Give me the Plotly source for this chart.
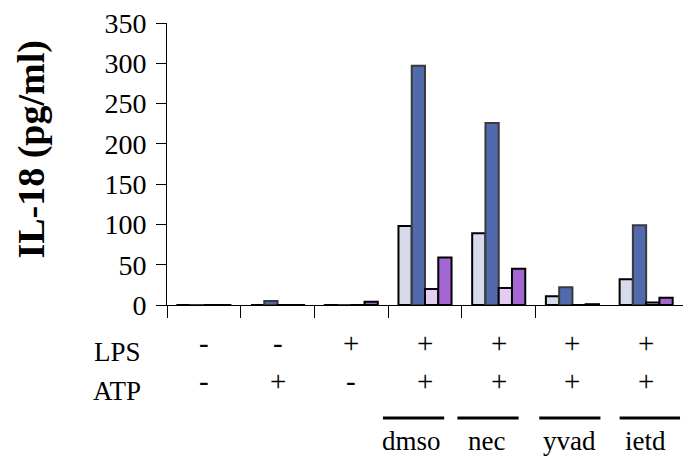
import plotly.graph_objects as go

# ---- data ----
groups = [0, 1, 2, 3, 4, 5, 6]
lps_signs = ["-", "-", "+", "+", "+", "+", "+"]
atp_signs = ["-", "+", "-", "+", "+", "+", "+"]
inhibitors = ["dmso", "nec", "yvad", "ietd"]
inhibitor_groups = [3, 4, 5, 6]
series1 = [-3, 0, -2, 98, 89, 11, 32]
series2 = [-1, 5, 0, 297, 226, 22, 99]
series3 = [0, -1, -3, 20, 21, -2, 3]
series4 = [-3, -1, 4, 59, 45, 1, 9]
y_ticks = [0, 50, 100, 150, 200, 250, 300, 350]
y_title = "IL-18 (pg/ml)"

# ---- styling / layout constants ----
W, H = 690, 459
L, R, T, B = 166.7, 683.3, 22.7, 305.0
FONT = "Liberation Serif, Times New Roman, Times, serif"
colors = ["#D5DBEA", "#506AAD", "#E3CDF0", "#A466D2"]
outlines = ["#000000", "#3a3a3a", "#000000", "#000000"]
# bar underline spans relative to group index (in x units)
line_spans = [(-0.57, 0.26), (-0.56, 0.27), (-0.45, 0.38), (-0.36, 0.46)]
label_dx = [-0.18, -0.17, -0.04, -0.01]


def py(p):
    return (B - p) / (B - T)


def px(p):
    return (p - L) / (R - L)


fig = go.Figure()
for vals, c, oc in zip([series1, series2, series3, series4], colors, outlines):
    fig.add_trace(go.Bar(
        x=groups, y=vals, marker=dict(color=c, line=dict(color=oc, width=2)),
        cliponaxis=False, showlegend=False, hoverinfo="skip"))

ann = []
for g, s in zip(groups, lps_signs):
    ann.append(dict(x=g, y=py(343.5), xref="x", yref="paper", text=s, showarrow=False,
                    font=dict(family=FONT, size=29, color="black"), yanchor="middle"))
for g, s in zip(groups, atp_signs):
    ann.append(dict(x=g, y=py(381), xref="x", yref="paper", text=s, showarrow=False,
                    font=dict(family=FONT, size=29, color="black"), yanchor="middle"))
ann.append(dict(x=px(143), y=py(352), xref="paper", yref="paper", text="LPS", showarrow=False,
                xanchor="right", yanchor="middle", font=dict(family=FONT, size=27, color="black")))
ann.append(dict(x=px(143), y=py(391), xref="paper", yref="paper", text="ATP", showarrow=False,
                xanchor="right", yanchor="middle", font=dict(family=FONT, size=27, color="black")))
ann.append(dict(x=px(31), y=py(149), xref="paper", yref="paper", text="<b>" + y_title + "</b>",
                showarrow=False, textangle=-90, xanchor="center", yanchor="middle",
                font=dict(family=FONT, size=38, color="black")))

shapes = []
for g, name, (a, b), dx in zip(inhibitor_groups, inhibitors, line_spans, label_dx):
    shapes.append(dict(type="line", xref="x", yref="paper", x0=g + a, x1=g + b,
                       y0=py(418), y1=py(418), line=dict(color="black", width=3)))
    ann.append(dict(x=g + dx, y=py(441), xref="x", yref="paper", text=name, showarrow=False,
                    yanchor="middle", font=dict(family=FONT, size=27, color="black")))

fig.update_layout(
    width=W, height=H,
    margin=dict(l=L, r=W - R, t=T, b=H - B, pad=0),
    paper_bgcolor="white", plot_bgcolor="white",
    font=dict(family=FONT, color="black"),
    barmode="group", bargap=0.28, bargroupgap=0,
    annotations=ann, shapes=shapes,
    xaxis=dict(range=[-0.5, 6.5], tickmode="array", tickvals=[g - 0.5 for g in groups[:6]],
               showticklabels=False, ticks="outside", ticklen=12, tickcolor="black", tickwidth=1,
               showline=True, linecolor="black", linewidth=1, showgrid=False, zeroline=False,
               fixedrange=True),
    yaxis=dict(range=[0, 350], tickmode="array", tickvals=y_ticks,
               ticks="outside", ticklen=10, tickcolor="black", tickwidth=1,
               showline=True, linecolor="black", linewidth=1, showgrid=False, zeroline=False,
               tickfont=dict(family=FONT, size=28, color="black"), ticklabelstandoff=4,
               fixedrange=True),
)

fig.write_html("out.html", config={"displayModeBar": False},
               post_script="document.body.style.margin='0';document.body.style.padding='0';")
